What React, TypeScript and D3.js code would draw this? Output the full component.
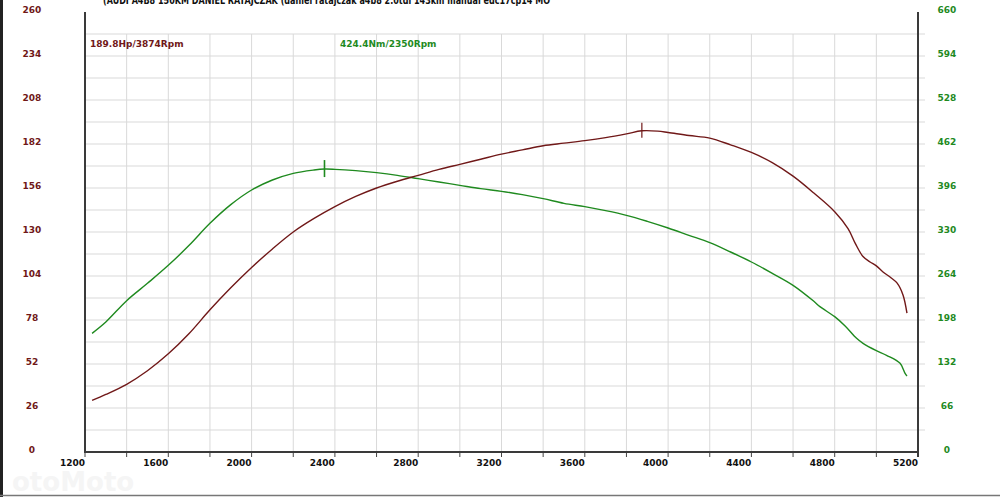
import React from "react";
import * as d3 from "d3";

const TITLE = "(AUDI A4B8 150KM DANIEL RATAJCZAK (daniel ratajczak a4b8 2.0tdi 143km manual edc17cp14 MO";
const POWER_LABEL = "189.8Hp/3874Rpm";
const TORQUE_LABEL = "424.4Nm/2350Rpm";
const WATERMARK = "otoMoto";

const powerRpm = [1234, 1300, 1400, 1500, 1600, 1700, 1800, 1900, 2000, 2100, 2200, 2300, 2400, 2500, 2600, 2700, 2800, 2900, 3000, 3100, 3200, 3300, 3400, 3500, 3600, 3700, 3800, 3874, 3950, 4000, 4100, 4200, 4300, 4400, 4500, 4600, 4700, 4800, 4864, 4900, 4936, 4970, 5000, 5032, 5070, 5099, 5128, 5147];
const powerHp = [30.5, 34, 40, 48, 58, 70, 84, 97, 109, 120, 130, 138, 145, 151, 156, 160, 163.5, 167, 170, 173, 176, 178.5, 181, 182.5, 184, 185.8, 188, 189.8, 189.6, 188.8, 187, 185.5, 181.5, 177, 171, 163, 153, 142, 132, 123, 115.5, 112.3, 110, 106.4, 103, 99.9, 92.8, 82];

const torqueRpm = [1234, 1300, 1400, 1500, 1600, 1700, 1800, 1900, 2000, 2100, 2200, 2300, 2350, 2400, 2500, 2600, 2700, 2800, 2900, 3000, 3100, 3200, 3300, 3400, 3500, 3600, 3700, 3800, 3900, 4000, 4100, 4200, 4300, 4400, 4500, 4600, 4700, 4729, 4800, 4850, 4905, 4936, 5000, 5049, 5114, 5138, 5147];
const torqueNm = [178, 195, 227, 253, 280, 310, 343, 371, 393, 408, 418, 423, 424.4, 424, 422, 419, 415, 410, 405, 400, 395, 391, 386, 380, 373, 368, 362, 355, 346, 336, 325, 314, 300, 285, 268, 250, 226, 218, 203, 189, 170.5, 163, 152, 145, 133, 118, 114];

const xTicks = [1200, 1600, 2000, 2400, 2800, 3200, 3600, 4000, 4400, 4800, 5200];
const powerTicks = [0, 26, 52, 78, 104, 130, 156, 182, 208, 234, 260];
const torqueTicks = [0, 66, 132, 198, 264, 330, 396, 462, 528, 594, 660];

const W = 1000;
const H = 497;
const RED = "#701818";
const GREEN = "#1f8a1f";
const FONT = "'DejaVu Sans', Verdana, sans-serif";

export default function App() {
  const x = d3.scaleLinear().domain([1200, 5200]).range([85, 918]);
  const yP = d3.scaleLinear().domain([0, 260]).range([452, 12]);
  const yT = d3.scaleLinear().domain([0, 660]).range([452, 12]);

  const powerData = powerRpm.map((r, i) => [r, powerHp[i]] as [number, number]);
  const torqueData = torqueRpm.map((r, i) => [r, torqueNm[i]] as [number, number]);

  const powerLine = d3.line<[number, number]>().x(d => x(d[0])).y(d => yP(d[1])).curve(d3.curveCatmullRom.alpha(0.5));
  const torqueLine = d3.line<[number, number]>().x(d => x(d[0])).y(d => yT(d[1])).curve(d3.curveCatmullRom.alpha(0.5));

  const hGrid = d3.range(1, 20).map(k => yP(13 * k));
  const vGrid = d3.range(1400, 5200, 200);
  const bottomTicks = d3.range(1200, 5201, 200);

  const pPeakX = x(3874);
  const pPeakY = yP(189.8);
  const tPeakX = x(2350);
  const tPeakY = yT(424.4);

  return (
    <svg width={W} height={H} style={{ position: "absolute", left: 0, top: 0, background: "#fff" }} fontFamily={FONT}>
      <rect x={0} y={0} width={W} height={H} fill="#fff" />
      <text x={12} y={491} fontSize={26} fontWeight="bold" fill="#f5f5f5" fontFamily={FONT}>{WATERMARK}</text>
      {hGrid.map((y, i) => (
        <line key={"h" + i} x1={85} x2={925} y1={y} y2={y} stroke="#d9d9d9" strokeWidth={1} />
      ))}
      {vGrid.map(r => (
        <line key={"v" + r} x1={x(r)} x2={x(r)} y1={yP(247)} y2={452} stroke="#d9d9d9" strokeWidth={1} />
      ))}
      {bottomTicks.map(r => (
        <line key={"t" + r} x1={x(r)} x2={x(r)} y1={452} y2={457} stroke="#444" strokeWidth={1} />
      ))}
      <line x1={85} x2={85} y1={12} y2={453} stroke="#3a3a3a" strokeWidth={2} />
      <line x1={918} x2={918} y1={12} y2={457} stroke="#3a3a3a" strokeWidth={2} />
      <line x1={84} x2={919} y1={452} y2={452} stroke="#3a3a3a" strokeWidth={2} />

      <path d={torqueLine(torqueData) || ""} fill="none" stroke={GREEN} strokeWidth={1.4} />
      <path d={powerLine(powerData) || ""} fill="none" stroke={RED} strokeWidth={1.4} />
      <line x1={pPeakX} x2={pPeakX} y1={pPeakY - 8} y2={pPeakY + 7} stroke={RED} strokeWidth={1.2} />
      <line x1={tPeakX} x2={tPeakX} y1={tPeakY - 9} y2={tPeakY + 8} stroke={GREEN} strokeWidth={1.6} />

      {powerTicks.map(v => (
        <text key={"p" + v} x={32} y={yP(v) + 1} textAnchor="middle" fontSize={9} fontWeight="bold" fill={RED}>{v}</text>
      ))}
      {torqueTicks.map(v => (
        <text key={"q" + v} x={947} y={yT(v) + 1} textAnchor="middle" fontSize={9} fontWeight="bold" fill={GREEN}>{v}</text>
      ))}
      {xTicks.map(r => (
        <text key={"x" + r} x={x(r)} y={466} textAnchor="end" fontSize={9} fontWeight="bold" fill="#111">{r}</text>
      ))}

      <text x={90} y={47} fontSize={9} fontWeight="bold" fill={RED}>{POWER_LABEL}</text>
      <text x={340} y={47} fontSize={9} fontWeight="bold" fill={GREEN}>{TORQUE_LABEL}</text>
      <text x={103} y={4} fontSize={10} fontWeight="bold" fill="#111" textLength={447} lengthAdjust="spacingAndGlyphs">{TITLE}</text>

      <line x1={1.5} x2={1.5} y1={0} y2={H} stroke="#222" strokeWidth={3} />
      <line x1={0} x2={W} y1={495.5} y2={495.5} stroke="#777" strokeWidth={1.5} />
    </svg>
  );
}
